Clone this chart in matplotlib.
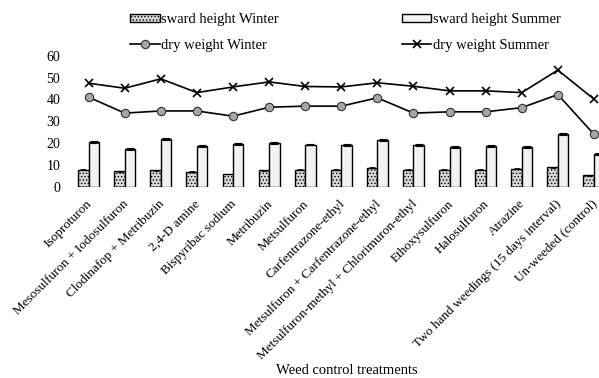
import matplotlib
matplotlib.use("Agg")
import matplotlib.pyplot as plt
import matplotlib.transforms as mtransforms
import numpy as np

categories = ["Isoproturon", "Mesosulfuron + Iodosulfuron", "Clodinafop + Metribuzin",
              "2,4-D amine", "Bispyribac sodium", "Metribuzin", "Metsulfuron",
              "Carfentrazone-ethyl", "Metsulfuron + Carfentrazone-ethyl",
              "Metsulfuron-methyl + Chlorimuron-ethyl", "Ethoxysulfuron", "Halosulfuron",
              "Atrazine", "Two hand weedings (15 days interval)", "Un-weeded (control)"]
sward_winter = [7.7, 7.0, 7.5, 6.9, 5.8, 7.5, 7.8, 7.8, 8.6, 7.8, 7.8, 7.8, 8.3, 8.9, 5.2]
sward_summer = [20.5, 17.4, 21.9, 18.7, 19.4, 19.9, 19.3, 19.0, 21.4, 19.0, 18.3, 18.7, 18.3, 24.3, 15.1]
dry_winter = [41.0, 33.7, 34.7, 34.7, 32.3, 36.4, 36.9, 36.9, 40.7, 33.7, 34.3, 34.3, 36.2, 42.2, 24.0]
dry_summer = [47.4, 45.1, 49.4, 43.1, 45.7, 48.0, 45.9, 45.7, 47.6, 46.0, 43.9, 43.9, 43.1, 53.4, 40.1]
err_summer = [0.4] * len(categories)
err_winter = [0.2] * len(categories)
yticks = [0, 10, 20, 30, 40, 50, 60]

plt.rcParams['font.family'] = ['Liberation Serif', 'DejaVu Serif']
plt.rcParams['hatch.linewidth'] = 0.6
plt.rcParams['hatch.color'] = '#555555'

fig = plt.figure(figsize=(5.99, 3.78), dpi=100)
ax = fig.add_axes([70.6 / 599, 191.3 / 378, 541.4 / 599, 131 / 378])

x = np.arange(len(categories))
w = 0.29
b1 = ax.bar(x - w / 2, sward_winter, w, color='#d8d8d8', edgecolor='black', linewidth=1.0,
            hatch='.....', label='sward height Winter', zorder=2)
b2 = ax.bar(x + w / 2, sward_summer, w, color='#f2f2f2', edgecolor='black', linewidth=1.0,
            label='sward height Summer', zorder=2)
ax.errorbar(x + w / 2, sward_summer, yerr=err_summer, fmt='none', ecolor='black',
            elinewidth=0.8, capsize=3, capthick=0.8, zorder=3)
ax.errorbar(x - w / 2, sward_winter, yerr=err_winter, fmt='none', ecolor='black',
            elinewidth=0.6, capsize=2, capthick=0.6, zorder=3)
l1, = ax.plot(x, dry_winter, color='black', lw=1.2, marker='o', markersize=6,
              markerfacecolor='#a6a6a6', markeredgecolor='#333333', markeredgewidth=0.8,
              label='dry weight Winter', zorder=4)
l2, = ax.plot(x, dry_summer, color='black', lw=1.2, marker='x', markersize=6,
              markeredgewidth=1.2, label='dry weight Summer', zorder=4)

ax.set_xlim(-0.5, len(categories) - 0.5)
ax.set_ylim(0, 60)
ax.set_yticks(yticks)
ax.set_xticks(x)
ax.set_xticklabels(categories, rotation=45, ha='right', rotation_mode='anchor', fontsize=9.5)
ax.tick_params(axis='x', length=0, pad=8)
ax.tick_params(axis='y', length=0, pad=7.5, labelsize=10)
offset = mtransforms.ScaledTranslation(-2.5 / 100, 0, fig.dpi_scale_trans)
for lab in ax.get_xticklabels():
    lab.set_transform(lab.get_transform() + offset)
for s in ax.spines.values():
    s.set_visible(False)

fig.text(347 / 599, 1 - 370 / 378, 'Weed control treatments', ha='center', va='center', fontsize=10.5)

fig.legend([b1, l1, b2, l2],
           ['sward height Winter', 'dry weight Winter', 'sward height Summer', 'dry weight Summer'],
           ncol=2, loc='upper left', bbox_to_anchor=(130 / 599, 1 - 13.5 / 378), frameon=False,
           fontsize=10.5, handlelength=2.05, handleheight=0.45, handletextpad=0.1,
           columnspacing=8.4, labelspacing=0.85, borderpad=0, borderaxespad=0)

fig.savefig('out.png', dpi=100)
